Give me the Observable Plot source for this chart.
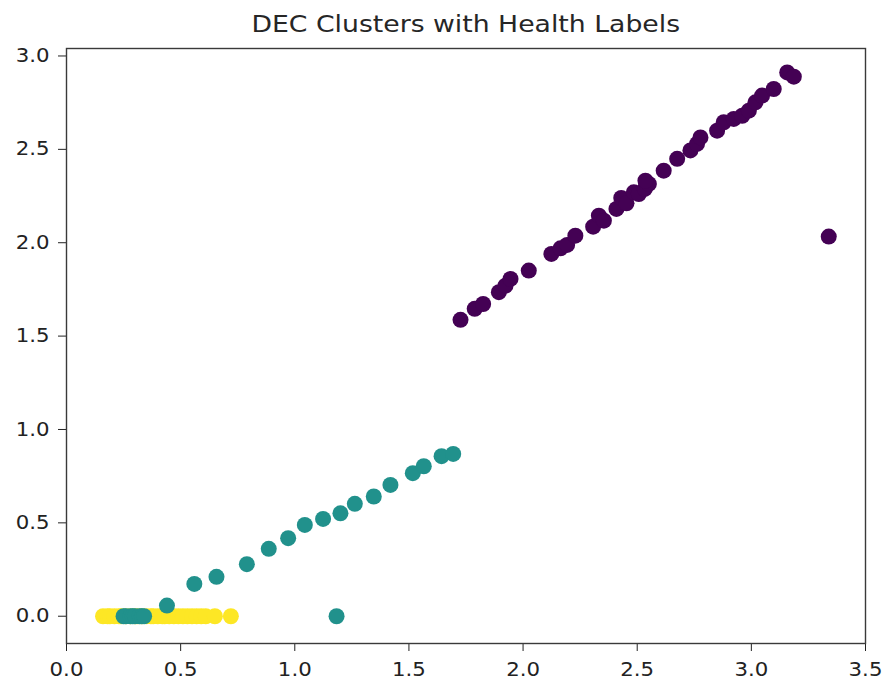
<!DOCTYPE html>
<html>
<head>
<meta charset="utf-8">
<script src="https://cdn.jsdelivr.net/npm/d3@7"></script>
<script src="https://cdn.jsdelivr.net/npm/@observablehq/plot@0.6"></script>
<style>
  html, body { margin: 0; padding: 0; background: #fff; }
  body { position: relative; width: 882px; height: 681px; overflow: hidden; font-family: "DejaVu Sans", sans-serif; }
  #title { position: absolute; left: 66px; width: 799px; top: 13px; height: 23px; line-height: 23px; text-align: center; font-size: 23px; color: #262626; }
  #title span { display: inline-block; transform: scaleX(1.16); transform-origin: center; white-space: nowrap; }
  #chart { position: absolute; left: 0; top: 44px; }
</style>
</head>
<body>
<div id="title"><span>DEC Clusters with Health Labels</span></div>
<div id="chart"></div>
<script>
// Cluster 2 (yellow)
const yellowX = [0.16, 0.18, 0.19, 0.21, 0.23, 0.24, 0.26, 0.28, 0.30, 0.31, 0.33, 0.35, 0.37, 0.38, 0.40, 0.42, 0.43, 0.45, 0.47, 0.49, 0.51, 0.53, 0.55, 0.57, 0.59, 0.61, 0.65, 0.72];
const yellowY = [0, 0, 0, 0, 0, 0, 0, 0, 0, 0, 0, 0, 0, 0, 0, 0, 0, 0, 0, 0, 0, 0, 0, 0, 0, 0, 0, 0];
// Cluster 1 (teal)
const tealX = [0.25, 0.26, 0.28, 0.29, 0.30, 0.32, 0.33, 0.34, 0.44, 0.56, 0.657, 0.79, 0.886, 0.971, 1.044, 1.124, 1.200, 1.263, 1.346, 1.419, 1.517, 1.565, 1.643, 1.694, 1.183];
const tealY = [0, 0, 0, 0, 0, 0, 0, 0, 0.057, 0.173, 0.211, 0.279, 0.361, 0.418, 0.489, 0.521, 0.551, 0.602, 0.641, 0.703, 0.766, 0.803, 0.857, 0.869, 0.0];
// Cluster 0 (purple)
const purpleX = [1.726, 1.788, 1.825, 1.894, 1.923, 1.945, 2.025, 2.124, 2.164, 2.193, 2.229, 2.307, 2.332, 2.354, 2.409, 2.430, 2.453, 2.485, 2.507, 2.533, 2.551, 2.536, 2.616, 2.675, 2.733, 2.762, 2.777, 2.850, 2.879, 2.923, 2.960, 2.989, 3.018, 3.047, 3.098, 3.157, 3.186, 3.339];
const purpleY = [1.587, 1.646, 1.672, 1.735, 1.770, 1.806, 1.851, 1.940, 1.970, 1.988, 2.038, 2.086, 2.145, 2.118, 2.181, 2.240, 2.211, 2.270, 2.261, 2.288, 2.315, 2.332, 2.386, 2.449, 2.494, 2.529, 2.564, 2.600, 2.645, 2.663, 2.680, 2.707, 2.752, 2.788, 2.823, 2.912, 2.889, 2.033];

const xTicks = [0, 0.5, 1.0, 1.5, 2.0, 2.5, 3.0, 3.5];
const yTicks = [0, 0.5, 1.0, 1.5, 2.0, 2.5, 3.0];
const clusterColors = ["#440154", "#21918c", "#fde725"];

const toRows = (xs, ys, label) => xs.map((x, i) => ({x, y: ys[i], label}));
const data = [
  ...toRows(yellowX, yellowY, 2),
  ...toRows(tealX, tealY, 1),
  ...toRows(purpleX, purpleY, 0)
];

const plot = Plot.plot({
  width: 882,
  height: 637,
  marginLeft: 66,
  marginRight: 17,
  marginTop: 4,
  marginBottom: 38,
  style: {fontFamily: "DejaVu Sans, sans-serif", fontSize: "19px", color: "#222", background: "#fff"},
  x: {domain: [0, 3.5], ticks: xTicks, tickFormat: d3.format(".1f"), label: null, tickSize: 8, tickPadding: 11},
  y: {domain: [-0.146, 3.04], ticks: yTicks, tickFormat: d3.format(".1f"), label: null, tickSize: 8, tickPadding: 9},
  color: {domain: [0, 1, 2], range: clusterColors},
  marks: [
    Plot.dot(data, {x: "x", y: "y", fill: "label", r: 8, stroke: null}),
    Plot.frame({stroke: "#3a3a3a", strokeWidth: 1.4})
  ]
});
document.getElementById("chart").appendChild(plot);

// matplotlib output here was stretched horizontally; mimic it on tick labels
plot.querySelectorAll('g[aria-label$="tick label"] text').forEach(t => {
  const w = t.getComputedTextLength();
  t.setAttribute("textLength", (w * 1.12).toFixed(2));
  t.setAttribute("lengthAdjust", "spacingAndGlyphs");
});
</script>
</body>
</html>
